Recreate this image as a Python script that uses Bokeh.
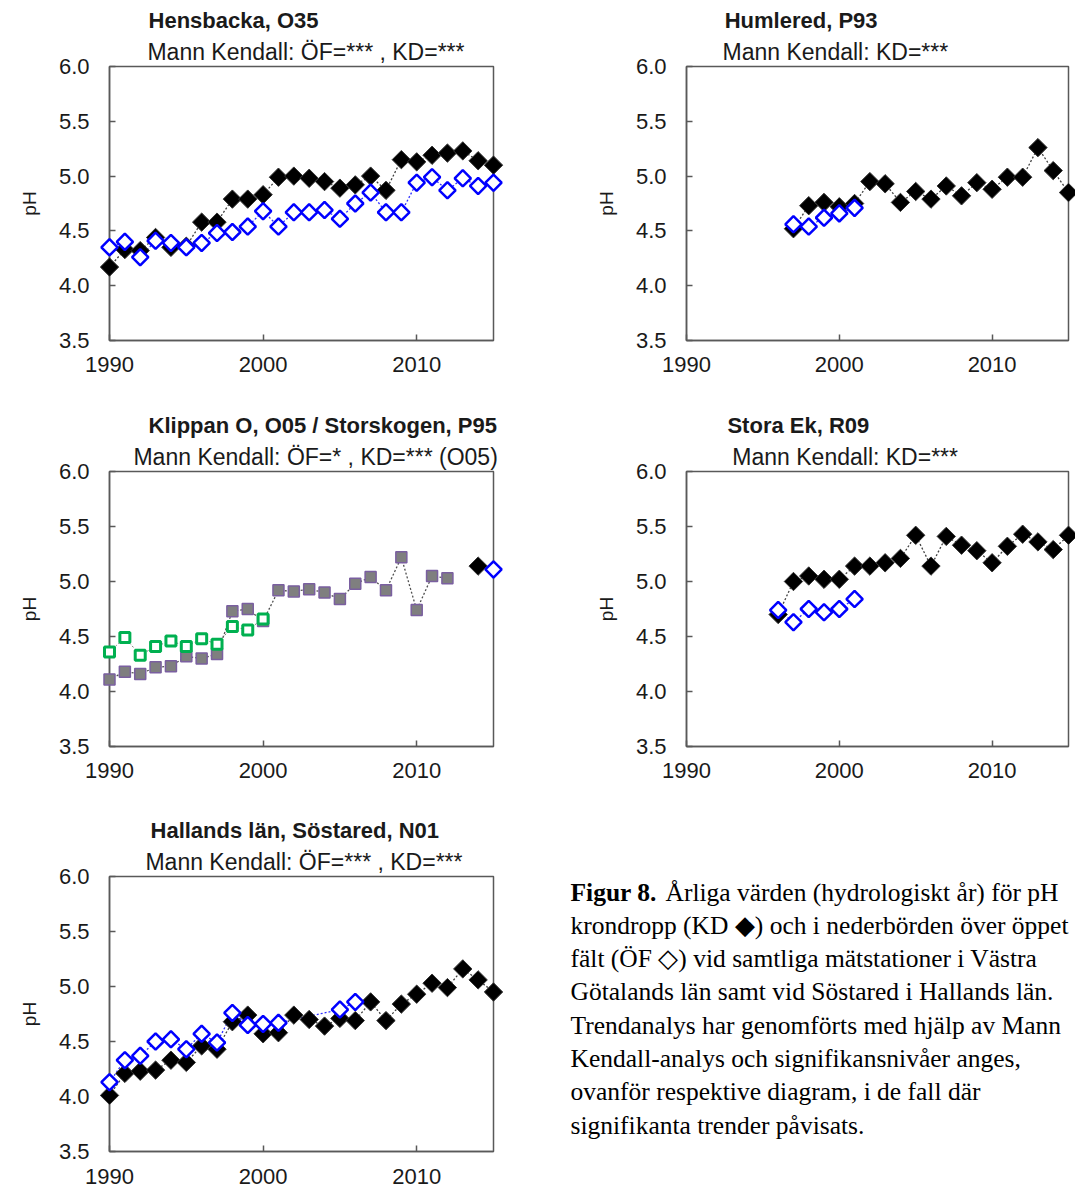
import numpy as np
from bokeh.plotting import figure
from bokeh.layouts import row, column
from bokeh.models import Range1d, FixedTicker, NumeralTickFormatter
from bokeh.core.properties import value
from bokeh.embed import file_html
from bokeh.resources import INLINE

# ---------------- data ----------------
# Hensbacka, O35
hens_years = list(range(1990, 2016))
hens_kd = [4.17, 4.33, 4.32, 4.44, 4.35, 4.36, 4.58, 4.58, 4.79, 4.79, 4.83, 4.99, 5.00,
           4.98, 4.95, 4.89, 4.92, 5.00, 4.87, 5.15, 5.13, 5.19, 5.21, 5.23, 5.14, 5.10]
hens_of = [4.35, 4.40, 4.26, 4.41, 4.39, 4.35, 4.39, 4.48, 4.49, 4.54, 4.68, 4.54, 4.67,
           4.67, 4.69, 4.61, 4.75, 4.85, 4.67, 4.67, 4.94, 4.99, 4.87, 4.98, 4.91, 4.94]

# Humlered, P93
hum_kd_years = list(range(1997, 2016))
hum_kd = [4.52, 4.73, 4.76, 4.72, 4.75, 4.95, 4.93, 4.76, 4.86, 4.79, 4.91, 4.82, 4.94,
          4.88, 4.99, 4.99, 5.26, 5.05, 4.85]
hum_of_years = list(range(1997, 2002))
hum_of = [4.56, 4.54, 4.62, 4.66, 4.71]

# Klippan O, O05 / Storskogen, P95
klip_kd_years = list(range(1990, 2013))
klip_kd = [4.11, 4.18, 4.16, 4.22, 4.23, 4.32, 4.30, 4.34, 4.73, 4.75, 4.64, 4.92, 4.91,
           4.93, 4.90, 4.84, 4.98, 5.04, 4.92, 5.22, 4.74, 5.05, 5.03]
klip_of_years = list(range(1990, 2001))
klip_of = [4.36, 4.49, 4.33, 4.41, 4.46, 4.41, 4.48, 4.43, 4.59, 4.56, 4.66]
stor_kd_years = [2014]
stor_kd = [5.14]
stor_of_years = [2015]
stor_of = [5.11]

# Stora Ek, R09
ek_kd_years = list(range(1996, 2016))
ek_kd = [4.70, 5.00, 5.05, 5.02, 5.02, 5.14, 5.14, 5.17, 5.21, 5.42, 5.14, 5.41, 5.33,
         5.28, 5.17, 5.32, 5.43, 5.36, 5.29, 5.42]
ek_of_years = list(range(1996, 2002))
ek_of = [4.74, 4.63, 4.75, 4.72, 4.75, 4.84]

# Hallands län, Söstared, N01
sos_kd_years = list(range(1990, 2016))
sos_kd = [4.01, 4.21, 4.23, 4.24, 4.33, 4.31, 4.46, 4.43, 4.68, 4.74, 4.57, 4.58, 4.74,
          4.70, 4.64, 4.71, 4.69, 4.86, 4.69, 4.84, 4.93, 5.03, 4.99, 5.16, 5.06, 4.95]
sos_of_years = list(range(1990, 2002)) + [2005, 2006]
sos_of = [4.13, 4.33, 4.37, 4.50, 4.52, 4.43, 4.57, 4.49, 4.76, 4.65, 4.66, 4.67, 4.79, 4.86]

x_ticks = [1990, 2000, 2010]
y_ticks = [3.5, 4.0, 4.5, 5.0, 5.5, 6.0]

# ---------------- styling ----------------
SANS = "Liberation Sans"
SERIF = "Liberation Serif"
AXIS_COL = "#595959"
BLUE = "#0000ff"
ROT = np.pi / 4


def panel(width, height, left, right, top, bottom, title, subtitle, tx, sx, standoff=16):
    p = figure(width=width, height=height, x_range=Range1d(1990, 2015),
               y_range=Range1d(3.5, 6.0), output_backend="svg", toolbar_location=None,
               min_border_left=left, min_border_right=right, min_border_top=top,
               min_border_bottom=bottom, background_fill_color="white",
               border_fill_color="white")
    p.xgrid.visible = False
    p.ygrid.visible = False
    p.outline_line_color = AXIS_COL
    p.outline_line_width = 1.5
    for ax in (p.xaxis[0], p.yaxis[0]):
        ax.axis_line_color = AXIS_COL
        ax.axis_line_width = 1.5
        ax.major_tick_line_color = AXIS_COL
        ax.major_tick_line_width = 1.5
        ax.major_tick_in = 6
        ax.major_tick_out = 0
        ax.minor_tick_line_color = None
        ax.major_label_text_font = SANS
        ax.major_label_text_font_size = "22px"
        ax.major_label_text_color = "#1a1a1a"
    p.xaxis.ticker = FixedTicker(ticks=x_ticks)
    p.yaxis.ticker = FixedTicker(ticks=y_ticks)
    p.yaxis.formatter = NumeralTickFormatter(format="0.0")
    p.xaxis.major_label_standoff = standoff
    p.yaxis.major_label_standoff = 20
    p.yaxis.axis_label = "pH"
    p.yaxis.axis_label_text_font = SANS
    p.yaxis.axis_label_text_font_style = "normal"
    p.yaxis.axis_label_text_font_size = "19px"
    p.yaxis.axis_label_text_color = "#1a1a1a"
    p.yaxis.axis_label_standoff = 16
    t1 = p.text(x=[tx], y=[6.417], text=[title], text_font=value(SANS),
                text_font_style="bold", text_font_size="22px", text_color="#1a1a1a",
                text_align="left", text_baseline="alphabetic")
    t1.level = "overlay"
    t2 = p.text(x=[sx], y=[6.133], text=[subtitle], text_font=value(SANS),
                text_font_size="23px", text_color="#1a1a1a",
                text_align="left", text_baseline="alphabetic")
    t2.level = "overlay"
    return p


def kd_series(p, xs, ys):
    p.line(xs, ys, line_color="#404040", line_dash="2 2", line_width=1.3)
    r = p.scatter(xs, ys, marker="square", angle=ROT, size=13, fill_color="black",
                  line_color="#333333", line_width=1)
    r.level = "overlay"


def of_series(p, xs, ys):
    p.line(xs, ys, line_color="#3030ff", line_dash="2 2", line_width=1.3)
    r = p.scatter(xs, ys, marker="square", angle=ROT, size=11.5, fill_color="white",
                  line_color=BLUE, line_width=2.5)
    r.level = "overlay"


# Row 1
p1 = panel(537, 406, 109, 44, 66, 65, "Hensbacka, O35",
           "Mann Kendall: ÖF=*** , KD=***", 1992.54, 1992.47)
kd_series(p1, hens_years, hens_kd)
of_series(p1, hens_years, hens_of)

p2 = panel(538, 406, 149, 7, 65, 66, "Humlered, P93",
           "Mann Kendall: KD=***", 1992.5, 1992.36)
kd_series(p2, hum_kd_years, hum_kd)
of_series(p2, hum_of_years, hum_of)

# Row 2
p3 = panel(537, 406, 109, 44, 65, 66, "Klippan O, O05 / Storskogen, P95",
           "Mann Kendall: ÖF=* , KD=*** (O05)", 1992.54, 1991.56)
p3.line(klip_kd_years, klip_kd, line_color="#505050", line_dash="2 2", line_width=1.3)
r = p3.scatter(klip_kd_years, klip_kd, marker="square", size=11, fill_color="#7f7f7f",
               line_color="#7a5fa0", line_width=1.5)
r.level = "overlay"
p3.line(klip_of_years, klip_of, line_color="#808080", line_dash="2 2", line_width=1.0)
r = p3.scatter(klip_of_years, klip_of, marker="square", size=10, fill_color="white",
               line_color="#00b050", line_width=3)
r.level = "overlay"
kd_series(p3, stor_kd_years, stor_kd)
of_series(p3, stor_of_years, stor_of)

p4 = panel(538, 406, 149, 7, 65, 66, "Stora Ek, R09",
           "Mann Kendall: KD=***", 1992.68, 1993.0)
kd_series(p4, ek_kd_years, ek_kd)
of_series(p4, ek_of_years, ek_of)

# Row 3
p5 = panel(537, 377, 109, 44, 64, 38, "Hallands län, Söstared, N01",
           "Mann Kendall: ÖF=*** , KD=***", 1992.67, 1992.34, standoff=17)
kd_series(p5, sos_kd_years, sos_kd)
of_series(p5, sos_of_years, sos_of)

# Caption (frame spans the figure's full width, rows 64..339 like panel 5)
cap = figure(width=538, height=377, x_range=Range1d(0, 538), y_range=Range1d(339, 64),
             output_backend="svg", toolbar_location=None, x_axis_location=None,
             y_axis_location=None, min_border_left=0, min_border_right=0,
             min_border_top=64, min_border_bottom=38, outline_line_color=None)
cap.xgrid.visible = False
cap.ygrid.visible = False
cap_lines = [
    "Årliga värden (hydrologiskt år) för pH",
    "krondropp (KD ◆) och i nederbörden över öppet",
    "fält (ÖF ◇) vid samtliga mätstationer i Västra",
    "Götalands län samt vid Söstared i Hallands län.",
    "Trendanalys har genomförts med hjälp av Mann",
    "Kendall-analys och signifikansnivåer anges,",
    "ovanför respektive diagram, i de fall där",
    "signifikanta trender påvisats.",
]
CAP_Y0 = 79.5
CAP_DY = 33.3
b = cap.text(x=[33], y=[CAP_Y0], text=["Figur 8."], text_font=value(SERIF),
             text_font_style="bold", text_font_size="25.5px", text_color="black",
             text_align="left", text_baseline="alphabetic")
b.level = "overlay"
cap_x = [128] + [33] * (len(cap_lines) - 1)
cap_y = [CAP_Y0 + CAP_DY * i for i in range(len(cap_lines))]
t = cap.text(x=cap_x, y=cap_y, text=cap_lines, text_font=value(SERIF),
             text_font_size="25.5px", text_color="black", text_align="left",
             text_baseline="alphabetic")
t.level = "overlay"

layout = column(row(p1, p2), row(p3, p4), row(p5, cap))
open("out.html", "w").write(file_html(layout, INLINE))
